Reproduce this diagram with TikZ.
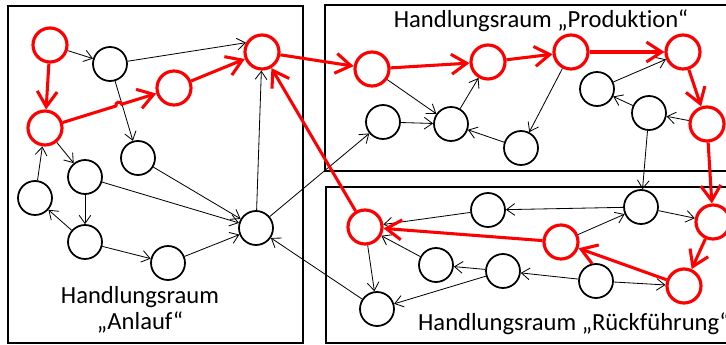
\documentclass[tikz,border=0pt]{standalone}
\usepackage{fontspec}
\setmainfont{Carlito}[Ligatures=NoCommon]
\usetikzlibrary{arrows.meta,calc}
\definecolor{hotred}{HTML}{FF0000}
\tikzset{
  state/.style={circle, draw=black, fill=white, line width=1.5pt, minimum size=10.2mm, inner sep=0pt},
  hot/.style={state, draw=hotred, line width=2.7pt},
  link/.style={-{Straight Barb[length=7pt, width=10pt]}, line width=0.7pt},
  route/.style={-{Straight Barb[length=13pt, width=17pt]}, line width=2.6pt, hotred},
  room/.style={draw=black, line width=1.5pt},
  roomtag/.style={font=\fontsize{21}{22.5}\selectfont, align=center},
}

\begin{document}
\begin{tikzpicture}[x=0.3mm, y=-0.3mm]
    \clip (0,0) rectangle (726,345);
    % the three rooms
    \draw[room] (8,6) rectangle (303,343);
    \draw[room] (325,5) rectangle (732,171);
    \draw[room] (326,187) rectangle (732,343);
    \node[roomtag] (tagA) at (140,310) {Handlungsraum\\„Anlauf“};
    \node[roomtag] (tagP) at (541,21) {Handlungsraum „Produktion“};
    \node[roomtag, anchor=west] (tagR) at (414,324) {Handlungsraum „Rückführung“};

    % states
    \foreach \n/\x/\y in {L2/110/64, L6/138/158, L7/85/177, L8/35/198, L9/85/242, L10/168/263, L11/256/228,
                          P6/383/122, P7/451/124, P8/521/148, P9/597/89, P10/649/113,
                          R2/488/210, R3/641/207, R6/436/265, R7/503/271, R8/596/281, R10/377/309}
      \node[state] (\n) at (\x,\y) {};
    \foreach \n/\x/\y in {L1/50/45, L3/45/128, L4/174/88, L5/262/52,
                          P1/372/69, P2/488/62, P3/571/52, P4/683/52, P5/707/124,
                          R1/365/227, R4/713/222, R5/561/242, R9/684/286}
      \node[hot] (\n) at (\x,\y) {};

    % plain transitions
    \draw[link] (L2) -- (L5.150);
    \foreach \a/\b in {L1/L2, L2/L6, L3/L7, L8/L3, L7/L9, L9/L8, L7/L11, L6/L11, L9/L10, L10/L11,
                       L11/L5, L11/P6, R10/L11, P1/P7, P6/P7, P7/P2, P8/P7, P3/P8, P9/P4, P10/P9,
                       P5/P10, P10/R3, R3/R2, R2/R1, R3/R4, R5/R3, R8/R9, R8/R7, R7/R6, R6/R1,
                       R1/R10, R7/R10}
      \draw[link] (\a) -- (\b);

    % the red route
    \draw[route] (L3) -- ($(L3)!0.55!(L4)$) arc[start angle=163, end angle=343, radius=3] -- (L4);
    \foreach \a/\b in {L1/L3, L4/L5, L5/P1, P1/P2, P2/P3, P3/P4, P4/P5, P5/R4, R4/R9, R9/R5, R5/R1, R1/L5}
      \draw[route] (\a) -- (\b);
  \end{tikzpicture}
\end{document}
